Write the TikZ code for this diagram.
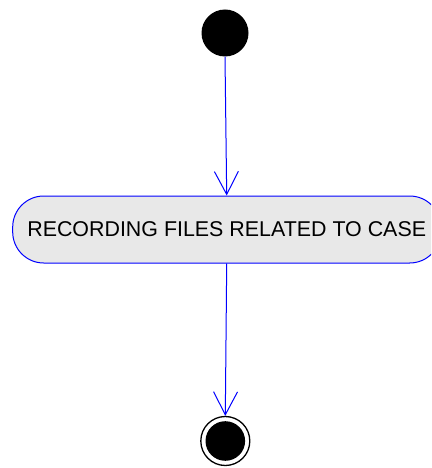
\documentclass[tikz,border=0pt]{standalone}
\usepackage{fontspec}
\setmainfont{Liberation Sans}
\usetikzlibrary{arrows.meta}
\definecolor{flowblue}{RGB}{0,0,255}
\definecolor{actfill}{RGB}{232,232,232}
\begin{document}
\begin{tikzpicture}[x=1pt,y=-1pt,
  flow/.style={draw=flowblue, line width=1pt, -{Straight Barb[length=23pt,width=24pt,line width=1pt]}},
  activity/.style={draw=flowblue, fill=actfill, line width=1pt, rounded corners=31pt,
    minimum width=428pt, minimum height=67pt, inner sep=0pt, font=\fontsize{21.4}{24}\selectfont},
  initial/.style={circle, fill=black, minimum size=47pt, inner sep=0pt},
  final/.style={circle, draw=black, line width=1.3pt, fill=white, minimum size=49pt, inner sep=0pt}
]
\clip (0,0) rectangle (431,468);
\useasboundingbox (0,0) rectangle (431,468);
\node[initial] (start) at (225,33) {};
\node[activity] (rec) at (226.7,229.5) {RECORDING FILES RELATED TO CASE};
\node[final] (stop) at (225.3,441) {};
\fill[black] (stop.center) circle (19.8pt);
\draw[flow] (start.south) -- (rec.north);
\draw[flow] (rec.south) -- (stop.north);
\end{tikzpicture}
\end{document}
